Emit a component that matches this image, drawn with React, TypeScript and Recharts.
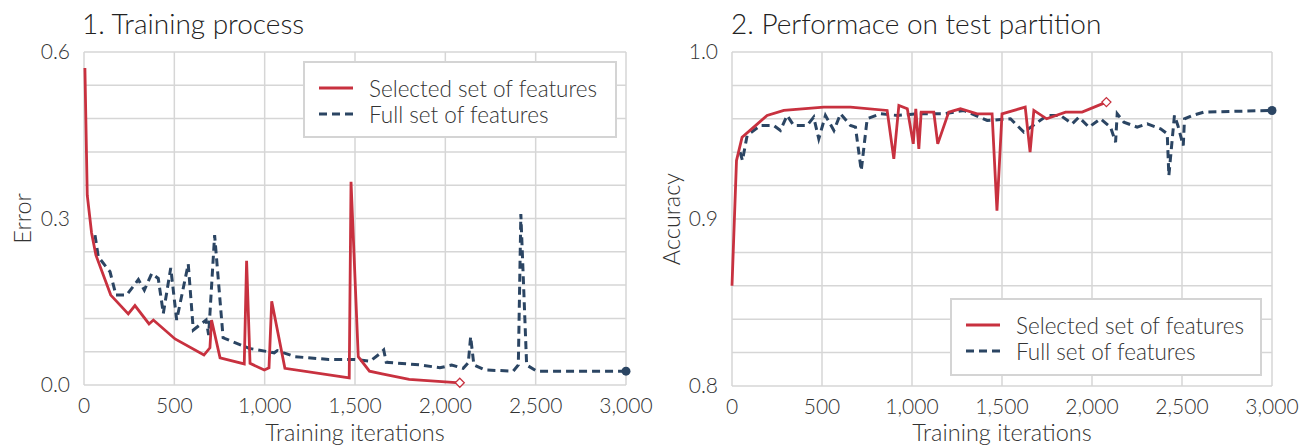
import React from "react";
import {
  LineChart,
  Line,
  XAxis,
  YAxis,
  CartesianGrid,
} from "recharts";

// ---- data ----
const iterationTicks = [0, 500, 1000, 1500, 2000, 2500, 3000];

const errorTicks = [0, 0.06, 0.12, 0.18, 0.24, 0.3, 0.36, 0.42, 0.48, 0.54, 0.6];
const errorLabels = [0, 0.3, 0.6];
const accuracyTicks = [0.8, 0.82, 0.84, 0.86, 0.88, 0.9, 0.92, 0.94, 0.96, 0.98, 1.0];
const accuracyLabels = [0.8, 0.9, 1.0];

// 1. Training process
const trainSelectedIter = [
  5, 18, 42, 66, 148, 245, 282, 360, 384, 504, 664, 697, 706, 753, 887, 900,
  919, 998, 1024, 1039, 1112, 1468, 1478, 1518, 1580, 1650, 1800, 1900, 2080,
];
const trainSelectedError = [
  0.571, 0.342, 0.274, 0.234, 0.162, 0.128, 0.143, 0.11, 0.117, 0.083, 0.054,
  0.067, 0.117, 0.049, 0.038, 0.224, 0.039, 0.027, 0.031, 0.151, 0.03, 0.013,
  0.366, 0.051, 0.025, 0.02, 0.01, 0.008, 0.004,
];
const trainFullIter = [
  61, 79, 144, 177, 236, 301, 334, 375, 411, 439, 480, 513, 577, 605, 676, 690,
  723, 770, 914, 1053, 1070, 1168, 1354, 1494, 1585, 1643, 1659, 1673, 1865,
  1970, 2035, 2099, 2127, 2140, 2158, 2219, 2376, 2404, 2418, 2450, 2505, 3000,
];
const trainFullError = [
  0.27, 0.231, 0.204, 0.162, 0.162, 0.19, 0.171, 0.201, 0.192, 0.129, 0.211,
  0.117, 0.218, 0.099, 0.117, 0.09, 0.27, 0.085, 0.066, 0.058, 0.062, 0.051,
  0.046, 0.046, 0.043, 0.058, 0.063, 0.041, 0.036, 0.031, 0.036, 0.03, 0.04,
  0.087, 0.036, 0.027, 0.025, 0.036, 0.308, 0.036, 0.025, 0.025,
];

// 2. Performance on test partition
const testSelectedIter = [
  0, 25, 56, 121, 195, 288, 510, 658, 862, 899, 927, 974, 1007, 1021, 1038,
  1051, 1121, 1143, 1204, 1269, 1362, 1445, 1472, 1500, 1629, 1656, 1677, 1748,
  1853, 1945, 2080,
];
const testSelectedAccuracy = [
  0.86, 0.935, 0.949, 0.955, 0.962, 0.965, 0.967, 0.967, 0.965, 0.936, 0.968,
  0.966, 0.945, 0.966, 0.942, 0.964, 0.964, 0.945, 0.964, 0.966, 0.963, 0.963,
  0.905, 0.963, 0.967, 0.94, 0.965, 0.96, 0.964, 0.964, 0.97,
];
const testFullIter = [
  45, 58, 84, 158, 232, 269, 306, 343, 417, 454, 482, 519, 566, 603, 658, 686,
  718, 751, 825, 918, 1029, 1177, 1288, 1418, 1547, 1621, 1660, 1751, 1825,
  1890, 1927, 1983, 2047, 2103, 2131, 2140, 2177, 2251, 2307, 2381, 2418, 2427,
  2458, 2477, 2507, 2514, 2557, 2621, 3000,
];
const testFullAccuracy = [
  0.94, 0.935, 0.95, 0.956, 0.956, 0.953, 0.962, 0.956, 0.956, 0.961, 0.948,
  0.962, 0.953, 0.963, 0.956, 0.955, 0.929, 0.96, 0.963, 0.962, 0.963, 0.963,
  0.965, 0.959, 0.96, 0.952, 0.955, 0.962, 0.962, 0.957, 0.961, 0.955, 0.96,
  0.955, 0.946, 0.963, 0.958, 0.955, 0.957, 0.954, 0.951, 0.926, 0.962, 0.956,
  0.944, 0.96, 0.962, 0.964, 0.965,
];

const RED = "#c8313f";
const NAVY = "#2b4563";
const GRID = "#d6d6d6";
const TEXT = "#333";
const FONT = "Lato, 'Open Sans', sans-serif";
const WEIGHT = 300;

const toPoints = (xs: number[], ys: number[]) =>
  xs.map((x, i) => ({ x, y: ys[i] }));

const formatIter = (v: number) => v.toLocaleString("en-US");

const labelFormatter = (labels: number[]) => (v: number) =>
  labels.some((l) => Math.abs(l - v) < 1e-9) ? v.toFixed(1) : "";

// marker only on the last point of a series
const lastDiamond = (count: number) => (props: any) => {
  const { cx, cy, index } = props;
  if (index !== count - 1) return <g key={`d-${index}`} />;
  const s = 4.5;
  return (
    <path
      key={`d-${index}`}
      d={`M${cx},${cy - s} L${cx + s},${cy} L${cx},${cy + s} L${cx - s},${cy} Z`}
      fill="#fff"
      stroke={RED}
      strokeWidth={1.3}
    />
  );
};

const lastCircle = (count: number) => (props: any) => {
  const { cx, cy, index } = props;
  if (index !== count - 1) return <g key={`c-${index}`} />;
  return <circle key={`c-${index}`} cx={cx} cy={cy} r={4.5} fill={NAVY} />;
};

const xTitle = (text: string) => (props: any) => {
  const { viewBox } = props;
  return (
    <text
      x={viewBox.x + viewBox.width / 2}
      y={441}
      textAnchor="middle"
      fontSize={23.5}
      fontWeight={WEIGHT}
      fill={TEXT}
      fontFamily={FONT}
    >
      {text}
    </text>
  );
};

const yTitle = (text: string, cx: number) => (props: any) => {
  const { viewBox } = props;
  const cy = viewBox.y + viewBox.height / 2;
  return (
    <text
      x={cx}
      y={cy}
      textAnchor="middle"
      dominantBaseline="central"
      transform={`rotate(-90, ${cx}, ${cy})`}
      fontSize={23.5}
      fontWeight={WEIGHT}
      fill={TEXT}
      fontFamily={FONT}
    >
      {text}
    </text>
  );
};

interface LegendBoxProps {
  left: number;
  top: number;
  width: number;
  height: number;
}

const LegendBox: React.FC<LegendBoxProps> = ({ left, top, width, height }) => {
  const rows = [
    { label: "Selected set of features", color: RED, dash: undefined },
    { label: "Full set of features", color: NAVY, dash: "8 5" },
  ];
  return (
    <div
      style={{
        position: "absolute",
        left,
        top,
        width,
        height,
        boxSizing: "border-box",
        border: "2px solid #d4d4d4",
        background: "#fff",
        padding: "12px 0 0 14px",
        fontFamily: FONT,
        fontWeight: WEIGHT,
        fontSize: 22.5,
        color: TEXT,
      }}
    >
      {rows.map((r) => (
        <div
          key={r.label}
          style={{ display: "flex", alignItems: "center", height: 26 }}
        >
          <svg width={34} height={10} style={{ marginRight: 16 }}>
            <line
              x1={0}
              y1={5}
              x2={34}
              y2={5}
              stroke={r.color}
              strokeWidth={3}
              strokeDasharray={r.dash}
            />
          </svg>
          <span>{r.label}</span>
        </div>
      ))}
    </div>
  );
};

interface PanelProps {
  left: number;
  width: number;
  title: string;
  titleLeft: number;
  yTitleText: string;
  yTitleX: number;
  yDomain: [number, number];
  yTicks: number[];
  yLabels: number[];
  margin: { top: number; right: number; bottom: number; left: number };
  xHeight: number;
  selected: { x: number; y: number }[];
  full: { x: number; y: number }[];
}

const Panel: React.FC<PanelProps> = ({
  left,
  width,
  title,
  titleLeft,
  yTitleText,
  yTitleX,
  yDomain,
  yTicks,
  yLabels,
  margin,
  xHeight,
  selected,
  full,
}) => {
  const tick = { fontSize: 21, fill: TEXT, fontFamily: FONT, fontWeight: WEIGHT };
  return (
    <div style={{ position: "absolute", left, top: 0, width, height: 445 }}>
      <div
        style={{
          position: "absolute",
          left: titleLeft,
          top: 6,
          fontFamily: FONT,
          fontWeight: WEIGHT,
          fontSize: 28,
          lineHeight: "34px",
          color: "#222",
          whiteSpace: "nowrap",
        }}
      >
        {title}
      </div>
      <LineChart width={width} height={445} margin={margin}>
        <CartesianGrid stroke={GRID} strokeWidth={1.5} />
        <XAxis
          type="number"
          dataKey="x"
          domain={[0, 3000]}
          ticks={iterationTicks}
          interval={0}
          tickFormatter={formatIter}
          axisLine={false}
          tickLine={false}
          tickMargin={7}
          height={xHeight}
          tick={tick}
          label={{ content: xTitle("Training iterations") }}
        />
        <YAxis
          type="number"
          domain={yDomain}
          ticks={yTicks}
          interval={0}
          tickFormatter={labelFormatter(yLabels)}
          axisLine={false}
          tickLine={false}
          tickMargin={8}
          width={60}
          tick={tick}
          label={{ content: yTitle(yTitleText, yTitleX) }}
        />
        <Line
          data={full}
          dataKey="y"
          type="linear"
          stroke={NAVY}
          strokeWidth={3}
          strokeDasharray="8 5"
          dot={lastCircle(full.length)}
          activeDot={false}
          isAnimationActive={false}
        />
        <Line
          data={selected}
          dataKey="y"
          type="linear"
          stroke={RED}
          strokeWidth={2.8}
          dot={lastDiamond(selected.length)}
          activeDot={false}
          isAnimationActive={false}
        />
      </LineChart>
    </div>
  );
};

export default function App() {
  return (
    <div
      style={{
        position: "absolute",
        left: 0,
        top: 0,
        width: 1303,
        height: 445,
        background: "#fff",
        overflow: "hidden",
      }}
    >
      <Panel
        left={0}
        width={666}
        title="1. Training process"
        titleLeft={82}
        yTitleText="Error"
        yTitleX={22}
        yDomain={[0, 0.6]}
        yTicks={errorTicks}
        yLabels={errorLabels}
        margin={{ top: 52, right: 40, bottom: 0, left: 24 }}
        xHeight={60}
        selected={toPoints(trainSelectedIter, trainSelectedError)}
        full={toPoints(trainFullIter, trainFullError)}
      />
      <Panel
        left={650}
        width={653}
        title="2. Performace on test partition"
        titleLeft={81}
        yTitleText="Accuracy"
        yTitleX={21}
        yDomain={[0.8, 1.0]}
        yTicks={accuracyTicks}
        yLabels={accuracyLabels}
        margin={{ top: 52, right: 31, bottom: 0, left: 22 }}
        xHeight={59}
        selected={toPoints(testSelectedIter, testSelectedAccuracy)}
        full={toPoints(testFullIter, testFullAccuracy)}
      />
      <LegendBox left={303} top={61} width={314} height={77} />
      <LegendBox left={950} top={298} width={312} height={78} />
    </div>
  );
}
